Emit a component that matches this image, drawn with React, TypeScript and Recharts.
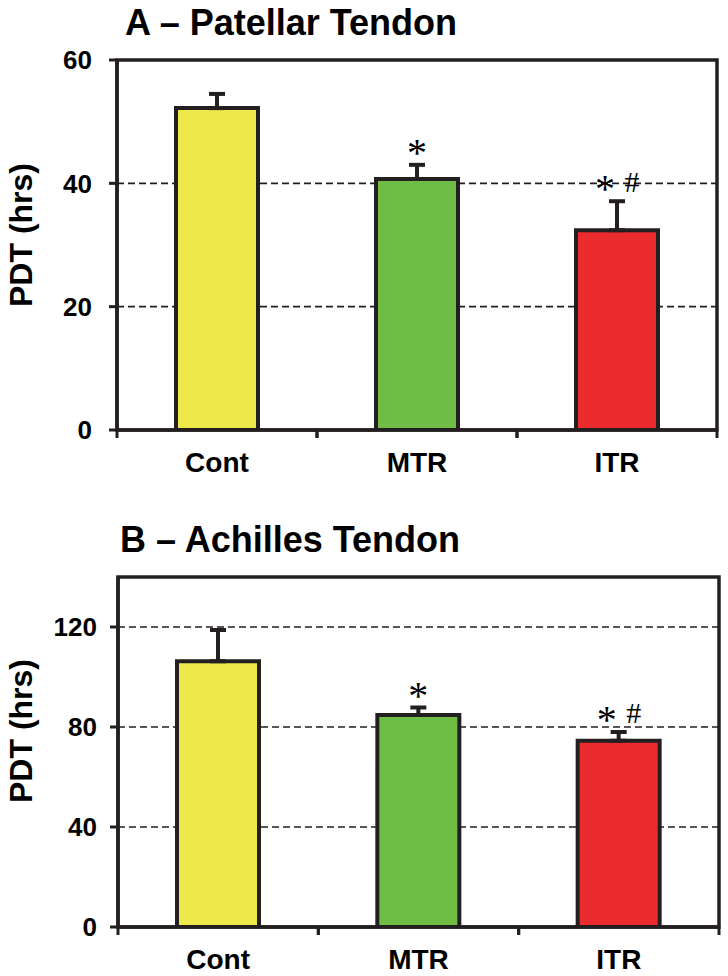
import React from 'react';
import {
  BarChart,
  Bar,
  XAxis,
  YAxis,
  CartesianGrid,
  ErrorBar,
  LabelList,
  ReferenceArea,
  Cell,
} from 'recharts';

const categories = ['Cont', 'MTR', 'ITR'];
const barColors = ['#eee84a', '#6fbd45', '#eb2b2d'];
const patellarMean = [52.2, 40.7, 32.4];
const patellarSem = [2.3, 2.3, 4.7];
const achillesMean = [106.3, 84.8, 74.5];
const achillesSem = [12.5, 3.0, 3.5];
const significance = ['', '*', '*#'];
const patellarTicks = [0, 20, 40, 60];
const achillesTicks = [0, 40, 80, 120];

const DARK = '#231f20';
const SANS = '"Liberation Sans", Arial, Helvetica, sans-serif';
const SERIF = '"Liberation Serif", "Times New Roman", serif';

const buildRows = (means: number[], sems: number[]) =>
  categories.map((name, i) => ({
    name,
    mean: means[i],
    err: [0, sems[i]],
    sig: significance[i],
  }));

const patellarRows = buildRows(patellarMean, patellarSem);
const achillesRows = buildRows(achillesMean, achillesSem);

const makeXTick = (band: number) => (props: any) => {
  const { x, y, payload } = props;
  return (
    <g>
      <line x1={x - band / 2} y1={y} x2={x - band / 2} y2={y + 8} stroke={DARK} strokeWidth={3} />
      <line x1={x + band / 2} y1={y} x2={x + band / 2} y2={y + 8} stroke={DARK} strokeWidth={3} />
      <text
        x={x}
        y={y + 42}
        textAnchor="middle"
        fontSize={28}
        fontWeight="bold"
        fontFamily={SANS}
        fill="#000"
      >
        {payload.value}
      </text>
    </g>
  );
};

const makeSigLabel = (means: number[], sems: number[]) => (props: any) => {
  const vb = props.viewBox || {};
  const x = props.x ?? vb.x;
  const y = props.y ?? vb.y;
  const width = props.width ?? vb.width;
  const height = props.height ?? vb.height;
  const index = props.index;
  const value = props.value;
  if (!value || index == null) return null;
  const pxPerUnit = height / means[index];
  const errTop = y - sems[index] * pxPerUnit;
  const cx = x + width / 2;
  const cy = errTop - 18;
  if (value === '*') {
    return (
      <text x={cx} y={cy + 19} textAnchor="middle" fontSize={40} fontFamily={SERIF} fill="#000">
        *
      </text>
    );
  }
  return (
    <g>
      <text x={cx - 12} y={cy + 19} textAnchor="middle" fontSize={40} fontFamily={SERIF} fill="#000">
        *
      </text>
      <text x={cx + 15} y={cy + 9} textAnchor="middle" fontSize={30} fontFamily={SERIF} fill="#000">
        #
      </text>
    </g>
  );
};

type PanelProps = {
  rows: any[];
  means: number[];
  sems: number[];
  ticks: number[];
  max: number;
  width: number;
  height: number;
  margin: { top: number; right: number; left: number; bottom: number };
  xAxisHeight: number;
  tickMargin: number;
};

const Panel = ({ rows, means, sems, ticks, max, width, height, margin, xAxisHeight, tickMargin }: PanelProps) => {
  const yAxisWidth = 80;
  const band = (width - margin.left - margin.right - yAxisWidth) / categories.length;
  return (
    <BarChart width={width} height={height} data={rows} margin={margin} barSize={82}>
      <CartesianGrid
        horizontal={true}
        vertical={false}
        stroke={DARK}
        strokeWidth={1.6}
        strokeDasharray="7 4"
      />
      <XAxis
        dataKey="name"
        height={xAxisHeight}
        axisLine={{ stroke: DARK, strokeWidth: 3.5 }}
        tickLine={false}
        tickSize={0}
        tickMargin={0}
        interval={0}
        tick={makeXTick(band)}
      />
      <YAxis
        width={yAxisWidth}
        domain={[0, max]}
        ticks={ticks}
        allowDataOverflow={true}
        axisLine={{ stroke: DARK, strokeWidth: 3.5 }}
        tickLine={{ stroke: DARK, strokeWidth: 3 }}
        tickSize={8}
        tickMargin={tickMargin}
        tick={{ fontSize: 26, fontWeight: 'bold', fill: '#000', fontFamily: SANS }}
      />
      <ReferenceArea
        y1={0}
        y2={max}
        fill="none"
        fillOpacity={0}
        stroke={DARK}
        strokeWidth={3.5}
        ifOverflow="visible"
      />
      <Bar dataKey="mean" stroke={DARK} strokeWidth={4} isAnimationActive={false}>
        {rows.map((r, i) => (
          <Cell key={r.name} fill={barColors[i]} />
        ))}
        <ErrorBar dataKey="err" direction="y" width={8} strokeWidth={4} stroke={DARK} />
        <LabelList dataKey="sig" content={makeSigLabel(means, sems)} />
      </Bar>
    </BarChart>
  );
};

export default function App() {
  return (
    <div style={{ position: 'absolute', left: 0, top: 0, width: 728, height: 976, background: '#fff' }}>
      <div style={{ position: 'absolute', left: 0, top: 0 }}>
        <Panel
          rows={patellarRows}
          means={patellarMean}
          sems={patellarSem}
          ticks={patellarTicks}
          max={60}
          width={728}
          height={500}
          margin={{ top: 60, right: 11, left: 37, bottom: 20 }}
          xAxisHeight={50}
          tickMargin={17}
        />
      </div>
      <div style={{ position: 'absolute', left: 0, top: 500 }}>
        <Panel
          rows={achillesRows}
          means={achillesMean}
          sems={achillesSem}
          ticks={achillesTicks}
          max={140}
          width={728}
          height={476}
          margin={{ top: 77, right: 9, left: 38, bottom: 19 }}
          xAxisHeight={30}
          tickMargin={13}
        />
      </div>
      <svg
        width={728}
        height={976}
        style={{ position: 'absolute', left: 0, top: 0, pointerEvents: 'none' }}
      >
        <text x={125} y={35} fontSize={36} fontWeight="bold" fontFamily={SANS} fill="#000">
          A – Patellar Tendon
        </text>
        <text x={120} y={552} fontSize={36} fontWeight="bold" fontFamily={SANS} fill="#000">
          B – Achilles Tendon
        </text>
        <text
          x={32}
          y={235}
          transform="rotate(-90 32 235)"
          textAnchor="middle"
          fontSize={32}
          fontWeight="bold"
          fontFamily={SANS}
          fill="#000"
        >
          PDT (hrs)
        </text>
        <text
          x={32}
          y={731}
          transform="rotate(-90 32 731)"
          textAnchor="middle"
          fontSize={32}
          fontWeight="bold"
          fontFamily={SANS}
          fill="#000"
        >
          PDT (hrs)
        </text>
      </svg>
    </div>
  );
}
